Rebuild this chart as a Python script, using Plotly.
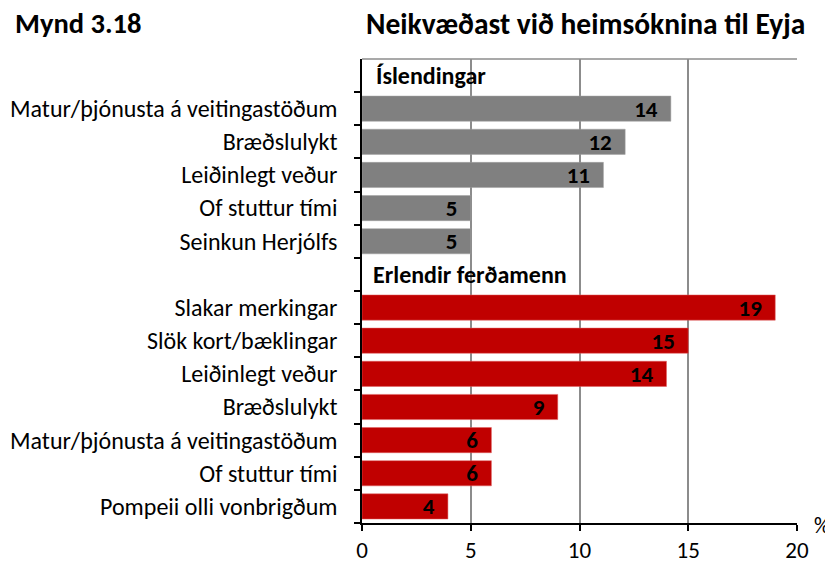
import plotly.graph_objects as go

# Data
group1_title = "Íslendingar"
group1_labels = ["Matur/þjónusta á veitingastöðum", "Bræðslulykt", "Leiðinlegt veður",
                 "Of stuttur tími", "Seinkun Herjólfs"]
group1_values = [14.2, 12.1, 11.1, 5.0, 5.0]

group2_title = "Erlendir ferðamenn"
group2_labels = ["Slakar merkingar", "Slök kort/bæklingar", "Leiðinlegt veður", "Bræðslulykt",
                 "Matur/þjónusta á veitingastöðum", "Of stuttur tími", "Pompeii olli vonbrigðum"]
group2_values = [19.0, 15.0, 14.0, 9.0, 5.95, 5.95, 3.95]

x_ticks = [0, 5, 10, 15, 20]

FONT = "Carlito, Calibri, Lato, Liberation Sans, Arial, sans-serif"

# page geometry (the page has an 8px body margin)
PL, PR, PT, PB = 362, 797, 59, 523
PW, PH = PR - PL, PB - PT


def px(x):
    return (x - PL) / PW


def py(y):
    return (PB - y) / PH


ids1 = ["g1_h"] + [f"g1_{i}" for i in range(len(group1_labels))]
ids2 = ["g2_h"] + [f"g2_{i}" for i in range(len(group2_labels))]
all_ids = ids1 + ids2
all_text = [""] + group1_labels + [""] + group2_labels

PAD = "\u00a0\u00a0"
label_font = dict(color="black", size=23, family=FONT, weight="bold")

fig = go.Figure()
fig.add_trace(go.Bar(
    y=ids1[1:], x=group1_values, orientation="h",
    marker=dict(color="#808080", line=dict(color="#a0a0a0", width=0.5)),
    text=[f"{round(v):d}{PAD}" for v in group1_values],
    textposition="inside", insidetextanchor="end", constraintext="none", textangle=0,
    textfont=label_font, hoverinfo="x+y", showlegend=False,
))
fig.add_trace(go.Bar(
    y=ids2[1:], x=group2_values, orientation="h",
    marker=dict(color="#C00000", line=dict(color="#e06060", width=0.5)),
    text=[f"{round(v):d}{PAD}" for v in group2_values],
    textposition="inside", insidetextanchor="end", constraintext="none", textangle=0,
    textfont=label_font, hoverinfo="x+y", showlegend=False,
))

fig.update_layout(
    width=833, height=563,
    margin=dict(l=PL - 8, r=841 - PR, t=PT - 8, b=571 - PB, autoexpand=False),
    paper_bgcolor="white", plot_bgcolor="white",
    bargap=0.24,
    font=dict(family=FONT, size=24, color="black"),
    xaxis=dict(range=[0, 20], tickvals=x_ticks, ticktext=[str(t) for t in x_ticks],
               showgrid=True, gridcolor="#8c8c8c", gridwidth=1.5,
               showline=True, linecolor="black", linewidth=1.5,
               ticks="outside", ticklen=6, tickcolor="black", tickwidth=1.5,
               tickfont=dict(size=23, family=FONT), zeroline=False, fixedrange=True,
               automargin=False),
    yaxis=dict(type="category", categoryorder="array", categoryarray=all_ids,
               autorange="reversed",
               tickmode="array", tickvals=all_ids, ticktext=all_text,
               tickson="boundaries", ticks="outside", ticklen=6,
               tickcolor="black", tickwidth=1.5, ticklabelstandoff=18,
               showline=True, linecolor="black", linewidth=1.5,
               showgrid=False, tickfont=dict(size=24, family=FONT), fixedrange=True,
               automargin=False),
    shapes=[dict(type="line", xref="x domain", yref="y domain", x0=0, x1=1, y0=1, y1=1,
                 line=dict(color="#8c8c8c", width=1.5))],
    annotations=[
        dict(text="<b>Mynd 3.18</b>", xref="paper", yref="paper", x=px(13), y=py(24),
             xanchor="left", yanchor="middle", showarrow=False, font=dict(size=28.5, family=FONT)),
        dict(text="<b>Neikvæðast við heimsóknina til Eyja</b>", xref="paper", yref="paper",
             x=px(807), y=py(24), xanchor="right", yanchor="middle", showarrow=False,
             font=dict(size=29.5, family=FONT)),
        dict(text=f"<b>{group1_title}</b>", xref="paper", yref="y", x=px(374), y="g1_h",
             xanchor="left", yanchor="middle", showarrow=False, font=dict(size=24, family=FONT)),
        dict(text=f"<b>{group2_title}</b>", xref="paper", yref="y", x=px(371), y="g2_h",
             xanchor="left", yanchor="middle", showarrow=False, font=dict(size=24, family=FONT)),
        dict(text="%", xref="paper", yref="paper", x=px(812), y=py(525), xanchor="left",
             yanchor="middle", showarrow=False, font=dict(size=22, family=FONT)),
    ],
)

fig.write_html("out.html")
